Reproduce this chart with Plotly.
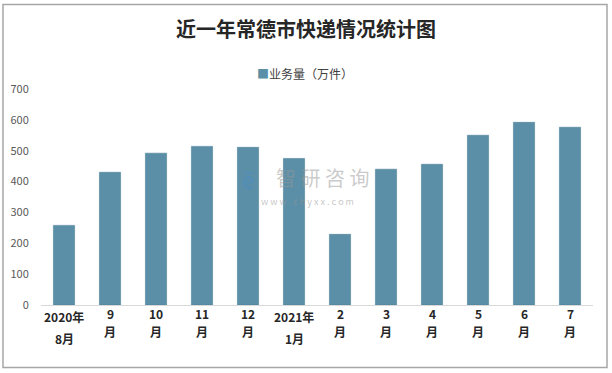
import plotly.graph_objects as go

categories = ["2020年<br>8月", "9<br>月", "10<br>月", "11<br>月", "12<br>月", "2021年<br>1月",
              "2<br>月", "3<br>月", "4<br>月", "5<br>月", "6<br>月", "7<br>月"]
values = [258, 430, 492, 514, 511, 475, 229, 440, 456, 550, 592, 576]
y_ticks = [0, 100, 200, 300, 400, 500, 600, 700]
series_name = "业务量（万件）"

W, H = 612, 373
L, R, T, B = 41, 19, 89, 68
pw, ph = W - L - R, H - T - B

def px(x):
    return (x - L) / pw

def py(y):
    return (H - B - y) / ph

fig = go.Figure()
fig.add_trace(go.Bar(
    x=categories, y=values, name=series_name,
    marker=dict(color="#5b8fa7", line=dict(color="#4f8199", width=0.6)),
))

label_font = dict(family="Noto Sans CJK SC", size=12, color="#262626", weight="bold")
annotations = []
for cat in categories:
    top, bottom = cat.split("<br>")
    long = "年" in top
    y1, y2 = (327, 349) if long else (323.5, 342)
    annotations.append(dict(text=top, x=cat, xref="x", yref="paper", y=py(y1),
                            showarrow=False, font=label_font))
    annotations.append(dict(text=bottom, x=cat, xref="x", yref="paper", y=py(y2),
                            showarrow=False, font=label_font))

annotations += [
    dict(text="<span style='color:#5b8fa7'>■</span>" + series_name, xref="paper", yref="paper",
         x=px(305), y=py(63), showarrow=False, font=dict(size=12, color="#404040")),
    dict(text="智 研 咨 询", xref="paper", yref="paper", x=px(322), y=py(177),
         showarrow=False, font=dict(size=20, color="rgba(150,150,150,0.5)")),
    dict(text="w w w . c h y x x . c o m", xref="paper", yref="paper", x=px(307), y=py(201),
         showarrow=False, font=dict(size=9, color="rgba(150,150,150,0.55)")),
    dict(text="<b>ē</b>", xref="paper", yref="paper", x=px(248), y=py(179),
         showarrow=False, font=dict(size=22, color="rgba(70,140,200,0.4)")),
]

fig.update_layout(
    width=W, height=H,
    margin=dict(l=L, r=R, t=T, b=B),
    paper_bgcolor="white", plot_bgcolor="white",
    bargap=0.54,
    font=dict(family="Noto Sans CJK SC", size=11, color="#595959"),
    title=dict(text="<b>近一年常德市快递情况统计图</b>", x=0.5, xanchor="center",
               y=1 - 30 / H, yanchor="middle",
               font=dict(family="Noto Sans CJK SC", size=20, color="#262626")),
    showlegend=False,
    xaxis=dict(showline=True, linecolor="#d9d9d9", linewidth=1, ticks="", automargin=False,
               showticklabels=False, showgrid=False),
    yaxis=dict(range=[0, 700], tickvals=y_ticks, showgrid=False, zeroline=False, automargin=False,
               showline=False, ticks="outside", ticklen=9, tickcolor="rgba(0,0,0,0)",
               tickfont=dict(size=11, color="#595959")),
    shapes=[dict(type="rect", xref="paper", yref="paper",
                 x0=px(3), x1=px(607), y0=py(367.5), y1=py(4.5),
                 line=dict(color="#a6a6a6", width=1.5), fillcolor="rgba(0,0,0,0)", layer="above")],
    annotations=annotations,
)

fig.write_html("out.html", config={"displayModeBar": False},
               post_script="document.body.style.margin='0';document.body.style.overflow='hidden';")
